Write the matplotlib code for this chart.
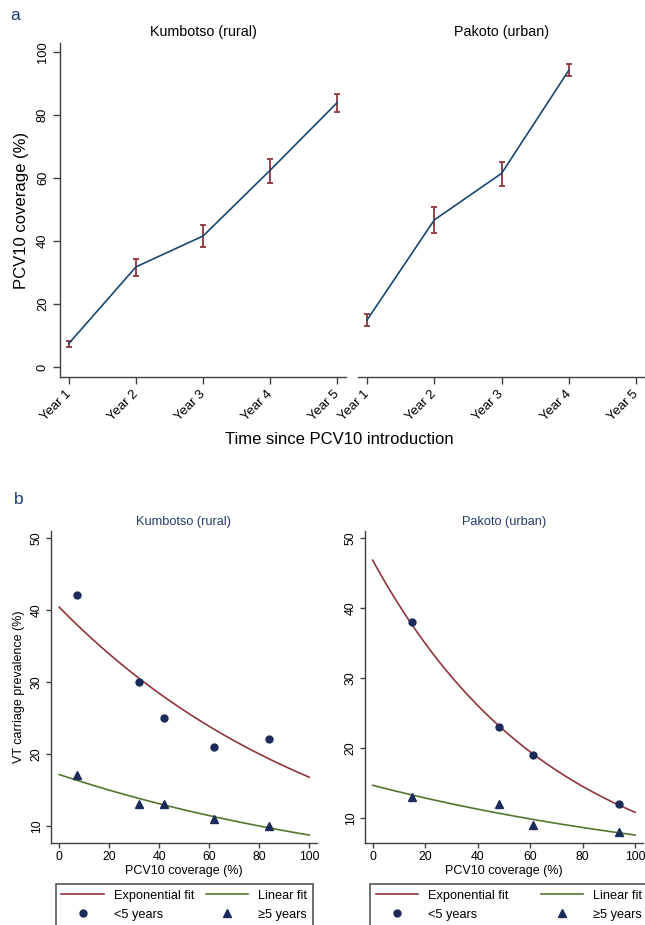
import numpy as np
import matplotlib
matplotlib.use('Agg')
import matplotlib.pyplot as plt
from matplotlib.lines import Line2D

plt.rcParams['font.family'] = ['Liberation Sans', 'DejaVu Sans']

# ── data: panel a (coverage by year, with CI) ──
years = ['Year 1', 'Year 2', 'Year 3', 'Year 4', 'Year 5']
kum_cov = [7.5, 31.8, 41.6, 62.5, 84.0]
kum_lo = [6.2, 28.9, 38.1, 58.5, 81.1]
kum_hi = [8.3, 34.4, 45.0, 66.0, 86.8]
pak_cov = [14.9, 46.7, 61.5, 94.3]
pak_lo = [13.0, 42.4, 57.5, 92.4]
pak_hi = [16.9, 50.8, 65.1, 96.1]

# ── data: panel b (VT carriage vs coverage) ──
kum_x = [7, 32, 42, 62, 84]
kum_u5 = [42, 30, 25, 21, 22]
kum_o5 = [17, 13, 13, 11, 10]
pak_x = [15, 48, 61, 94]
pak_u5 = [38, 23, 19, 12]
pak_o5 = [13, 12, 9, 8]

NAVY = '#1a476f'
MAROON = '#90353b'
GREEN = '#55752f'
DOT = '#1c2b5a'
SPINE = '#404040'
TITLE_B = '#26396a'

W, H = 645, 925
fig = plt.figure(figsize=(W / 100, H / 100), dpi=100)
fig.patch.set_facecolor('white')


def px_axes(l, t, r, b):
    return fig.add_axes([l / W, 1 - b / H, (r - l) / W, (b - t) / H])


def style(ax, left=True):
    for s in ['top', 'right']:
        ax.spines[s].set_visible(False)
    ax.spines['left'].set_visible(left)
    for s in ['left', 'bottom']:
        ax.spines[s].set_color(SPINE)
        ax.spines[s].set_linewidth(1.0)
    ax.tick_params(colors=SPINE, labelcolor='black', width=1.0)


# ── panel a ──
axa1 = px_axes(60, 43, 346, 377)
axa2 = px_axes(358, 43, 645, 377)
xpos = np.arange(1, len(years) + 1)

for ax, cov, lo, hi, title in [(axa1, kum_cov, kum_lo, kum_hi, 'Kumbotso (rural)'),
                               (axa2, pak_cov, pak_lo, pak_hi, 'Pakoto (urban)')]:
    n = len(cov)
    xs = xpos[:n]
    cov = np.array(cov)
    err = [cov - np.array(lo), np.array(hi) - cov]
    ax.errorbar(xs, cov, yerr=err, fmt='none', ecolor=MAROON, elinewidth=1.3,
                capsize=2.5, capthick=1.3, zorder=2)
    ax.plot(xs, cov, color=NAVY, lw=1.2, zorder=3)
    ax.set_xlim(0.866, 5.13)
    ax.set_ylim(-3.2, 102.9)
    ax.set_xticks(xpos)
    ax.set_xticklabels(years, rotation=45, ha='right', va='center',
                       rotation_mode='anchor', fontsize=9.5)
    ax.tick_params(axis='x', length=5, pad=6)
    ax.set_title(title, fontsize=10.3, pad=5, color='black')

style(axa1)
axa1.set_yticks([0, 20, 40, 60, 80, 100])
axa1.set_yticklabels(['0', '20', '40', '60', '80', '100'], rotation=90,
                     va='center', fontsize=9.3)
axa1.tick_params(axis='y', length=5, pad=3)
axa1.set_ylabel('PCV10 coverage (%)', fontsize=12, labelpad=6)

style(axa2, left=False)
axa2.set_yticks([])

fig.text(339 / W, 1 - 440 / H, 'Time since PCV10 introduction',
         fontsize=12, ha='center', va='center')
fig.text(15 / W, 1 - 15 / H, 'a', fontsize=12.5, color='#1f3a6e',
         ha='center', va='center')

# ── panel b ──
axb1 = px_axes(51, 530.7, 316.7, 843)
axb2 = px_axes(365, 530.7, 643, 843)
xfit = np.linspace(0, 100, 201)

for ax, x, u5, o5, title, ylim, xlim in [
        (axb1, kum_x, kum_u5, kum_o5, 'Kumbotso (rural)', (7.6, 51), (-3.3, 103)),
        (axb2, pak_x, pak_u5, pak_o5, 'Pakoto (urban)', (6.5, 51), (-2.9, 103))]:
    # log-linear fits of each age group against coverage
    b_u, a_u = np.polyfit(x, np.log(u5), 1)
    b_o, a_o = np.polyfit(x, np.log(o5), 1)
    ax.plot(xfit, np.exp(a_u + b_u * xfit), color=MAROON, lw=1.2, zorder=2)
    ax.plot(xfit, np.exp(a_o + b_o * xfit), color=GREEN, lw=1.2, zorder=2)
    ax.plot(x, u5, 'o', color=DOT, ms=5, zorder=3)
    ax.plot(x, o5, '^', color=DOT, ms=5.5, zorder=3)
    ax.set_xlim(*xlim)
    ax.set_ylim(*ylim)
    style(ax)
    ax.set_xticks([0, 20, 40, 60, 80, 100])
    ax.set_xticklabels(['0', '20', '40', '60', '80', '100'], fontsize=8.8)
    ax.set_yticks([10, 20, 30, 40, 50])
    ax.set_yticklabels(['10', '20', '30', '40', '50'], rotation=90,
                       va='center', fontsize=8.8)
    ax.tick_params(length=3.5, pad=2.5)
    ax.set_xlabel('PCV10 coverage (%)', fontsize=9, labelpad=1)
    ax.set_title(title, fontsize=9.2, pad=4, color=TITLE_B)

axb1.set_ylabel('VT carriage prevalence (%)', fontsize=9, labelpad=4)

fig.text(19 / W, 1 - 499 / H, 'b', fontsize=12.5, color='#1f3a6e',
         ha='center', va='center')

# ── legends (boxes run off the bottom edge) ──
handles = [Line2D([0], [0], color=MAROON, lw=1.2),
           Line2D([0], [0], ls='none', marker='o', color=DOT, ms=5),
           Line2D([0], [0], color=GREEN, lw=1.2),
           Line2D([0], [0], ls='none', marker='^', color=DOT, ms=5.5)]
labels = ['Exponential fit', '<5 years', 'Linear fit', '\u22655 years']

for x0, x1 in [(55.7, 313), (370, 648)]:
    leg = fig.legend(handles, labels, ncol=2, loc='upper left', mode='expand',
                     bbox_to_anchor=(x0 / W, 0, (x1 - x0) / W, 1 - 884 / H),
                     bbox_transform=fig.transFigure, fontsize=9.2,
                     handlelength=3.3, handletextpad=0.8, labelspacing=0.55,
                     borderpad=0.45, borderaxespad=0, fancybox=False,
                     framealpha=1)
    leg.get_frame().set_edgecolor('#555555')
    leg.get_frame().set_linewidth(1.2)

fig.savefig('out.png', dpi=100, facecolor='white')
